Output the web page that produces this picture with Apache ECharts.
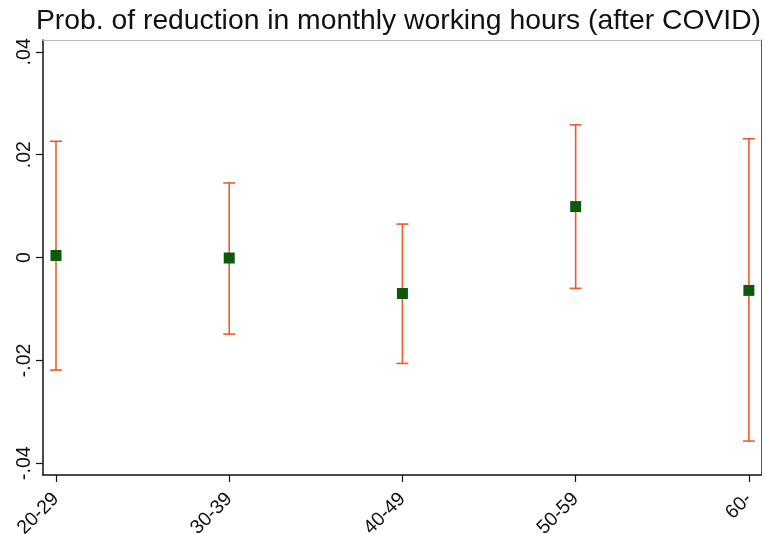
<!DOCTYPE html>
<html>
<head>
<meta charset="utf-8">
<script src="https://cdn.jsdelivr.net/npm/echarts@6/dist/echarts.min.js"></script>
<style>
  html, body { margin: 0; padding: 0; background: #fff; }
  #chart { width: 765px; height: 534px; }
</style>
</head>
<body>
<div id="chart"></div>
<script>
// Age groups and estimated coefficients with 95% confidence bounds
const ageGroups = ['20-29', '30-39', '40-49', '50-59', '60-'];
const estimates = [0.0004, -0.0001, -0.0070, 0.0099, -0.0064];
const upperBounds = [0.0226, 0.0145, 0.0065, 0.0258, 0.0231];
const lowerBounds = [-0.0219, -0.0149, -0.0206, -0.0060, -0.0357];
const yTicks = [-0.04, -0.02, 0, 0.02, 0.04];
const xPositions = [1, 2, 3, 4, 5];

const fmtY = v => {
  if (Math.abs(v) < 1e-9) return '0';
  const s = v.toFixed(2);
  return s.replace(/^(-?)0\./, '$1.');
};

const font = 'Liberation Sans, Arial, sans-serif';

const chart = echarts.init(document.getElementById('chart'), null, { renderer: 'canvas' });

const intervalData = xPositions.map((x, i) => [x, lowerBounds[i], upperBounds[i]]);
const pointData = xPositions.map((x, i) => [x, estimates[i]]);

chart.setOption({
  animation: false,
  backgroundColor: '#ffffff',
  title: {
    text: 'Prob. of reduction in monthly working hours (after COVID)',
    left: 31,
    top: 2,
    textStyle: { fontFamily: font, fontSize: 28.3, fontWeight: 'normal', color: '#111' }
  },
  grid: { left: 43, right: 4, top: 40, bottom: 59, containLabel: false, outerBoundsMode: 'none' },
  xAxis: [{
    type: 'value',
    min: 0.925,
    max: 5.07,
    splitLine: { show: false },
    axisLine: { show: true, onZero: false, lineStyle: { color: '#111', width: 1.5 } },
    axisTick: { show: true, length: 7, customValues: xPositions, lineStyle: { color: '#111', width: 1.2 } },
    axisLabel: {
      customValues: xPositions,
      rotate: 45,
      margin: 21,
      fontFamily: font,
      fontSize: 19.5,
      color: '#111',
      formatter: v => ageGroups[Math.round(v) - 1] || ''
    }
  }, {
    type: 'value',
    position: 'top',
    min: 0.925,
    max: 5.07,
    splitLine: { show: false },
    axisLine: { show: true, onZero: false, lineStyle: { color: '#bbb', width: 1 } },
    axisTick: { show: false },
    axisLabel: { show: false }
  }],
  yAxis: [{
    type: 'value',
    min: -0.0423,
    max: 0.0423,
    splitLine: { show: false },
    axisLine: { show: true, onZero: false, lineStyle: { color: '#111', width: 1.5 } },
    axisTick: { show: true, length: 7, customValues: yTicks, lineStyle: { color: '#111', width: 1.2 } },
    axisLabel: {
      customValues: yTicks,
      rotate: 90,
      margin: 8,
      fontFamily: font,
      fontSize: 19.5,
      color: '#111',
      formatter: fmtY
    }
  }, {
    type: 'value',
    position: 'right',
    min: -0.0423,
    max: 0.0423,
    splitLine: { show: false },
    axisLine: { show: true, onZero: false, lineStyle: { color: '#555', width: 1 } },
    axisTick: { show: false },
    axisLabel: { show: false }
  }],
  series: [{
    // confidence intervals with end caps
    type: 'custom',
    xAxisIndex: 0,
    yAxisIndex: 0,
    data: intervalData,
    renderItem: (params, api) => {
      const x = api.value(0);
      const lo = api.coord([x, api.value(1)]);
      const hi = api.coord([x, api.value(2)]);
      const cap = 6;
      const style = { stroke: '#f05a28', lineWidth: 1.6 };
      return {
        type: 'group',
        children: [
          { type: 'line', shape: { x1: lo[0], y1: lo[1], x2: hi[0], y2: hi[1] }, style },
          { type: 'line', shape: { x1: hi[0] - cap, y1: hi[1], x2: hi[0] + cap, y2: hi[1] }, style },
          { type: 'line', shape: { x1: lo[0] - cap, y1: lo[1], x2: lo[0] + cap, y2: lo[1] }, style }
        ]
      };
    },
    z: 2
  }, {
    // point estimates
    type: 'scatter',
    xAxisIndex: 0,
    yAxisIndex: 0,
    data: pointData,
    symbol: 'rect',
    symbolSize: 11,
    itemStyle: { color: '#0b5a0b', opacity: 1 },
    z: 3
  }]
});
</script>
</body>
</html>
